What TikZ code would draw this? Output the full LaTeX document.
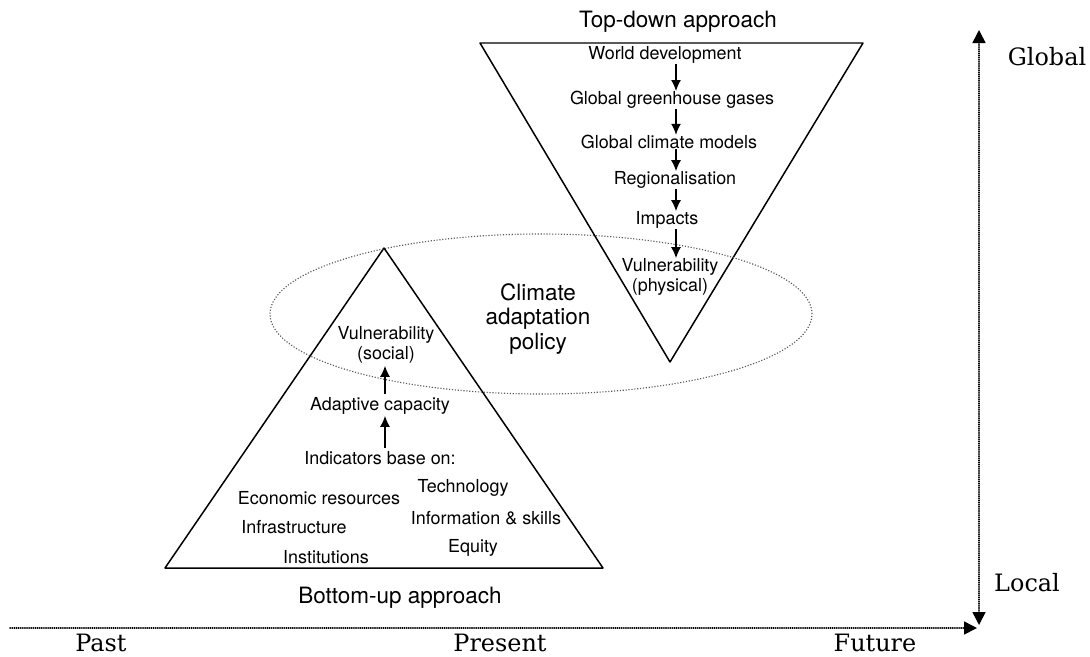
\documentclass[tikz,border=0pt]{standalone}
\usepackage{fontspec}
\setmainfont{DejaVu Serif}
\setsansfont{TeX Gyre Heros}
\usepackage{tkz-euclide}
\usetikzlibrary{calc}
\usetikzlibrary{arrows.meta}

\tikzset{
  item/.style={font=\sffamily\fontsize{10.2}{11.4}\selectfont, inner sep=0pt, align=center},
  title/.style={font=\sffamily\fontsize{12.8}{13.8}\selectfont, inner sep=0pt, align=center},
  scale label/.style={font=\fontsize{13.6}{15}\selectfont, inner sep=0pt},
  flow/.style={line width=0.75pt, -{Latex[length=2.2mm,width=2.0mm]}},
  axis/.style={densely dotted, line width=0.9pt},
  axistip/.style={-{Triangle[length=2.6mm,width=2.6mm]}},
}

\begin{document}
\begin{tikzpicture}
                    \useasboundingbox (0,0) rectangle (21.8,13.12);

                    % top-down triangle
                    \tkzDefPoint(9.60,12.26){A}
                    \tkzDefPoint(17.26,12.26){B}
                    \tkzDefPoint(13.40,5.88){C}
                    \tkzDrawPolygon[line width=0.85pt](A,B,C)

                    % bottom-up triangle
                    \tkzDefPoint(7.68,8.16){D}
                    \tkzDefPoint(3.30,1.76){E}
                    \tkzDefPoint(12.06,1.76){F}
                    \tkzDrawPolygon[line width=0.85pt](D,E,F)

                    % policy ellipse
                    \tkzDefPoint(10.82,6.84){O}
                    \draw[densely dotted, black!65, line width=0.65pt] (O) ellipse [x radius=5.42, y radius=1.60];
                    \node[title] (policy) at (10.76,6.74) {Climate\\adaptation\\policy};

                    % axes
                    \tkzDefPoint(0.20,0.56){P1}
                    \tkzDefPoint(19.54,0.56){P2}
                    \tkzDefPoint(19.58,0.62){L1}
                    \tkzDefPoint(19.58,12.52){G1}
                    \tkzDrawSegment[axis,axistip](P1,P2)
                    \tkzDrawSegment[axis,{Triangle[length=2.6mm,width=2.6mm]}-{Triangle[length=2.6mm,width=2.6mm]}](L1,G1)

                    \node[scale label] (past) at (2.02,0.26) {Past};
                    \node[scale label] (present) at (10.00,0.26) {Present};
                    \node[scale label] (future) at (17.50,0.26) {Future};
                    \node[scale label] (global) at (20.94,11.98) {Global};
                    \node[scale label] (local) at (20.54,1.46) {Local};

                    % top-down chain
                    \node[title] (topdown) at (13.56,12.68) {Top-down approach};
                    \coordinate (tdx) at (13.52,0);
                    \node[item] (world) at (13.30,12.02) {World development};
                    \node[item] (ghg) at (13.44,11.12) {Global greenhouse gases};
                    \node[item] (gcm) at (13.38,10.28) {Global climate models};
                    \node[item] (region) at (13.50,9.52) {Regionalisation};
                    \node[item] (impacts) at (13.34,8.72) {Impacts};
                    \node[item] (physvul) at (13.40,7.58) {Vulnerability\\(physical)};

                    \draw[flow] (world.south -| tdx) -- (ghg.north -| tdx);
                    \draw[flow] (ghg.south -| tdx) -- (gcm.north -| tdx);
                    \draw[flow] (gcm.south -| tdx) -- (region.north -| tdx);
                    \draw[flow] (region.south -| tdx) -- (impacts.north -| tdx);
                    \draw[flow] (impacts.south -| tdx) -- (physvul.north -| tdx);

                    % bottom-up chain
                    \node[title] (bottomup) at (8.00,1.16) {Bottom-up approach};
                    \coordinate (bux) at (7.70,0);
                    \node[item] (socvul) at (7.72,6.22) {Vulnerability\\(social)};
                    \node[item] (adapt) at (7.60,5.00) {Adaptive capacity};
                    \node[item] (indic) at (7.60,3.96) {Indicators base on:};
                    \node[item] (econ) at (6.38,3.16) {Economic resources};
                    \node[item] (tech) at (9.26,3.36) {Technology};
                    \node[item] (infra) at (5.88,2.58) {Infrastructure};
                    \node[item] (info) at (9.72,2.76) {Information \& skills};
                    \node[item] (inst) at (6.52,1.98) {Institutions};
                    \node[item] (equity) at (9.46,2.16) {Equity};

                    \draw[flow] ($(indic.north -| bux)+(0,0.06)$) -- ($(adapt.south -| bux)+(0,-0.02)$);
                    \draw[flow] ($(adapt.north -| bux)+(0,0.06)$) -- ($(socvul.south -| bux)+(0,-0.04)$);
                \end{tikzpicture}
\end{document}
